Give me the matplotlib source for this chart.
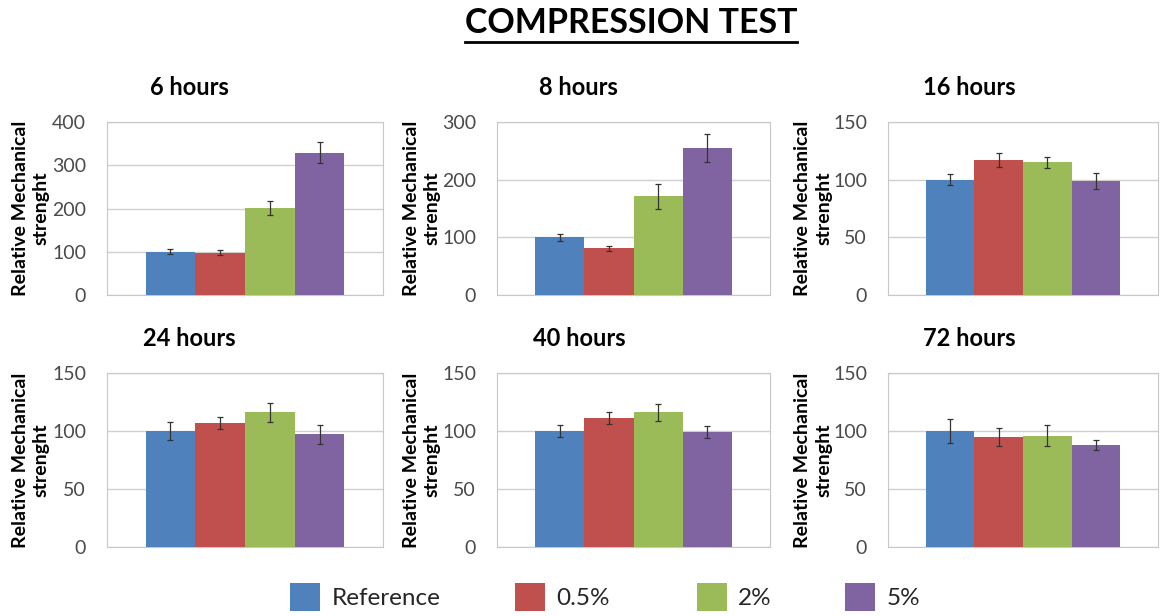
import matplotlib
matplotlib.use('Agg')
import matplotlib.pyplot as plt
from matplotlib.lines import Line2D
from matplotlib.patches import Patch

plt.rcParams['font.family'] = ['Lato', 'DejaVu Sans']

groups = ['Reference', '0.5%', '2%', '5%']
colors = ['#4F81BD', '#C0504D', '#9BBB59', '#8064A2']

panel_titles = ['6 hours', '8 hours', '16 hours', '24 hours', '40 hours', '72 hours']
y_max = [400, 300, 150, 150, 150, 150]
y_step = [100, 100, 50, 50, 50, 50]

# mean relative strength per group, one list per time point
means_6h = [100, 98, 201, 329]
means_8h = [100, 81, 171, 255]
means_16h = [100, 117, 115, 99]
means_24h = [100, 107, 116, 97]
means_40h = [100, 111, 116, 99]
means_72h = [100, 95, 96, 88]

errs_6h = [6, 5, 17, 24]
errs_8h = [6, 4, 22, 24]
errs_16h = [5, 6, 5, 7]
errs_24h = [8, 5, 8, 8]
errs_40h = [5, 5, 7, 5]
errs_72h = [10, 8, 9, 4]

all_means = [means_6h, means_8h, means_16h, means_24h, means_40h, means_72h]
all_errs = [errs_6h, errs_8h, errs_16h, errs_24h, errs_40h, errs_72h]

W, H = 1160, 616
fig = plt.figure(figsize=(W / 100, H / 100), dpi=100)

# axes boxes in pixels: (left, right, top, bottom)
cols = [(107, 383), (497, 770), (888, 1158)]
rows = [(122, 295), (373, 547)]

bar_w = 0.18
offsets = [-1.5 * bar_w, -0.5 * bar_w, 0.5 * bar_w, 1.5 * bar_w]

for i in range(6):
    l, r = cols[i % 3]
    t, b = rows[i // 3]
    ax = fig.add_axes([l / W, 1 - b / H, (r - l) / W, (b - t) / H])
    for j in range(4):
        ax.bar(offsets[j], all_means[i][j], width=bar_w, color=colors[j],
               yerr=all_errs[i][j], capsize=2.5,
               error_kw=dict(ecolor='#333333', elinewidth=0.9, capthick=0.9),
               zorder=3)
    ax.set_xlim(-0.5, 0.5)
    ax.set_ylim(0, y_max[i])
    ax.set_yticks(range(0, y_max[i] + 1, y_step[i]))
    ax.set_xticks([])
    ax.yaxis.grid(True, color='#d0d0d0', linewidth=1)
    ax.set_axisbelow(True)
    ax.tick_params(axis='y', length=0, labelsize=14, labelcolor='#4a4a4a', pad=15)
    for s in ax.spines.values():
        s.set_color('#c8c8c8')
    ax.text(0.3, 1.2, panel_titles[i], transform=ax.transAxes, ha='center',
            va='center', fontsize=17, fontweight='bold')
    ax.text(-0.276, 0.5, 'Relative Mechanical\nstrenght', transform=ax.transAxes,
            rotation=90, ha='center', va='center', multialignment='center',
            fontsize=14, fontweight='bold', linespacing=1.3)

title = fig.text(631 / W, 1 - 23 / H, 'COMPRESSION TEST', ha='center', va='center',
                 fontsize=24.5, fontweight='bold')

# underline the main title
fig.canvas.draw()
bb = title.get_window_extent()
uy = bb.y0 - 3
fig.add_artist(Line2D([bb.x0 / W, bb.x1 / W], [uy / H, uy / H],
                      transform=fig.transFigure, color='black', linewidth=2))

# legend entries are spread unevenly in the original, so one legend per entry
legend_x = [290, 515, 697, 845]
for k in range(4):
    leg = fig.legend([Patch(facecolor=colors[k], edgecolor='none')], [groups[k]],
                     loc='center left', bbox_to_anchor=(legend_x[k] / W, 1 - 597 / H),
                     frameon=False, fontsize=17.5, handlelength=1.25, handleheight=1.4,
                     handletextpad=0.45, borderpad=0, borderaxespad=0)
    for txt in leg.get_texts():
        txt.set_color('#262626')

fig.savefig('out.png', dpi=100)
